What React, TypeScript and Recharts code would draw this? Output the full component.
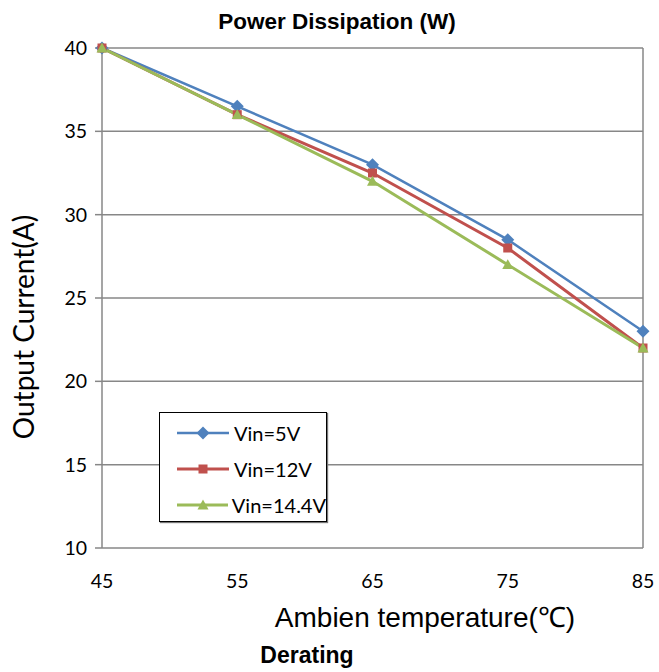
import React from "react";
import {
  LineChart,
  Line,
  XAxis,
  YAxis,
  CartesianGrid,
  ReferenceLine
} from "recharts";

const temps = [45, 55, 65, 75, 85];
const vin5V = [40, 36.5, 33, 28.5, 23];
const vin12V = [40, 36, 32.5, 28, 22];
const vin144V = [40, 36, 32, 27, 22];
const xTicks = [45, 55, 65, 75, 85];
const yTicks = [10, 15, 20, 25, 30, 35, 40];
const seriesNames = ["Vin=5V", "Vin=12V", "Vin=14.4V"];

const BLUE = "#4f81bd";
const RED = "#c0504d";
const GREEN = "#9bbb59";
const GRID = "#878787";
const TICK_FONT = "Lato, 'Open Sans', sans-serif";
const ARIAL = "'Liberation Sans', Arial, sans-serif";

const data = temps.map((t, i) => ({
  temp: t,
  v5: vin5V[i],
  v12: vin12V[i],
  v144: vin144V[i]
}));

const Diamond = ({ cx, cy, r = 6.5, fill }: any) => (
  <path d={`M${cx},${cy - r}L${cx + r},${cy}L${cx},${cy + r}L${cx - r},${cy}Z`} fill={fill} />
);
const Square = ({ cx, cy, r = 4.5, fill }: any) => (
  <rect x={cx - r} y={cy - r} width={r * 2} height={r * 2} fill={fill} />
);
const Triangle = ({ cx, cy, r = 5.5, fill }: any) => (
  <path d={`M${cx},${cy - r}L${cx + r},${cy + r * 0.8}L${cx - r},${cy + r * 0.8}Z`} fill={fill} />
);

const legendItems = [
  { name: seriesNames[0], color: BLUE, width: 2.5, Marker: Diamond },
  { name: seriesNames[1], color: RED, width: 3, Marker: Square },
  { name: seriesNames[2], color: GREEN, width: 3, Marker: Triangle }
];

// legend box sits inside the plot, lower left
const ChartLegend = () => (
  <div
    style={{
      position: "absolute",
      left: 159,
      top: 412,
      width: 168,
      height: 110,
      border: "1px solid #000",
      boxShadow: "1px 1px 1px #777",
      background: "#fff",
      boxSizing: "border-box",
      paddingTop: 2
    }}
  >
    {legendItems.map(({ name, color, width, Marker }) => (
      <div key={name} style={{ display: "flex", alignItems: "center", height: 36 }}>
        <svg width={70} height={20}>
          <line x1={17} y1={10} x2={69} y2={10} stroke={color} strokeWidth={width} />
          <Marker cx={43} cy={10} fill={color} />
        </svg>
        <span style={{ fontFamily: TICK_FONT, fontSize: 20, color: "#000", marginLeft: 4 }}>{name}</span>
      </div>
    ))}
  </div>
);

export default function App() {
  return (
    <div
      style={{
        position: "absolute",
        left: 0,
        top: 0,
        width: 659,
        height: 672,
        background: "#fff",
        overflow: "hidden"
      }}
    >
      <LineChart
        width={659}
        height={672}
        data={data}
        margin={{ top: 48, right: 16, bottom: 0, left: 0 }}
      >
        <CartesianGrid vertical={false} stroke={GRID} strokeWidth={1.5} />
        <XAxis
          dataKey="temp"
          type="number"
          domain={[45, 85]}
          ticks={xTicks}
          height={124}
          axisLine={false}
          tickLine={false}
          tickMargin={20}
          tick={{ fill: "#000", fontSize: 19.5, fontFamily: TICK_FONT }}
        />
        <YAxis
          type="number"
          domain={[10, 40]}
          ticks={yTicks}
          width={102}
          axisLine={{ stroke: GRID, strokeWidth: 1.5 }}
          tickLine={{ stroke: GRID, strokeWidth: 1.5 }}
          tickSize={7}
          tickMargin={8}
          tick={{ fill: "#000", fontSize: 19.5, fontFamily: TICK_FONT }}
        />
        <ReferenceLine x={85} stroke={GRID} strokeWidth={1.5} />
        <Line
          dataKey="v5"
          name={seriesNames[0]}
          stroke={BLUE}
          strokeWidth={2.5}
          isAnimationActive={false}
          dot={(p: any) => <Diamond key={p.index} cx={p.cx} cy={p.cy} fill={BLUE} />}
        />
        <Line
          dataKey="v12"
          name={seriesNames[1]}
          stroke={RED}
          strokeWidth={3}
          isAnimationActive={false}
          dot={(p: any) => <Square key={p.index} cx={p.cx} cy={p.cy} fill={RED} />}
        />
        <Line
          dataKey="v144"
          name={seriesNames[2]}
          stroke={GREEN}
          strokeWidth={3}
          isAnimationActive={false}
          dot={(p: any) => <Triangle key={p.index} cx={p.cx} cy={p.cy} fill={GREEN} />}
        />
      </LineChart>

      <ChartLegend />

      <div
        style={{
          position: "absolute",
          left: 337,
          top: 22,
          transform: "translate(-50%, -50%)",
          whiteSpace: "nowrap",
          fontFamily: ARIAL,
          fontWeight: "bold",
          fontSize: 22.5,
          color: "#000"
        }}
      >
        Power Dissipation (W)
      </div>
      <div
        style={{
          position: "absolute",
          left: 23,
          top: 327,
          transform: "translate(-50%, -50%) rotate(-90deg)",
          whiteSpace: "nowrap",
          fontFamily: TICK_FONT,
          fontSize: 28,
          color: "#000"
        }}
      >
        Output Current(A)
      </div>
      <div
        style={{
          position: "absolute",
          left: 425,
          top: 616,
          transform: "translate(-50%, -50%)",
          whiteSpace: "nowrap",
          fontFamily: ARIAL,
          fontSize: 28,
          color: "#000"
        }}
      >
        Ambien temperature(℃)
      </div>
      <div
        style={{
          position: "absolute",
          left: 307,
          top: 655,
          transform: "translate(-50%, -50%)",
          whiteSpace: "nowrap",
          fontFamily: ARIAL,
          fontWeight: "bold",
          fontSize: 23,
          color: "#000"
        }}
      >
        Derating
      </div>
    </div>
  );
}
